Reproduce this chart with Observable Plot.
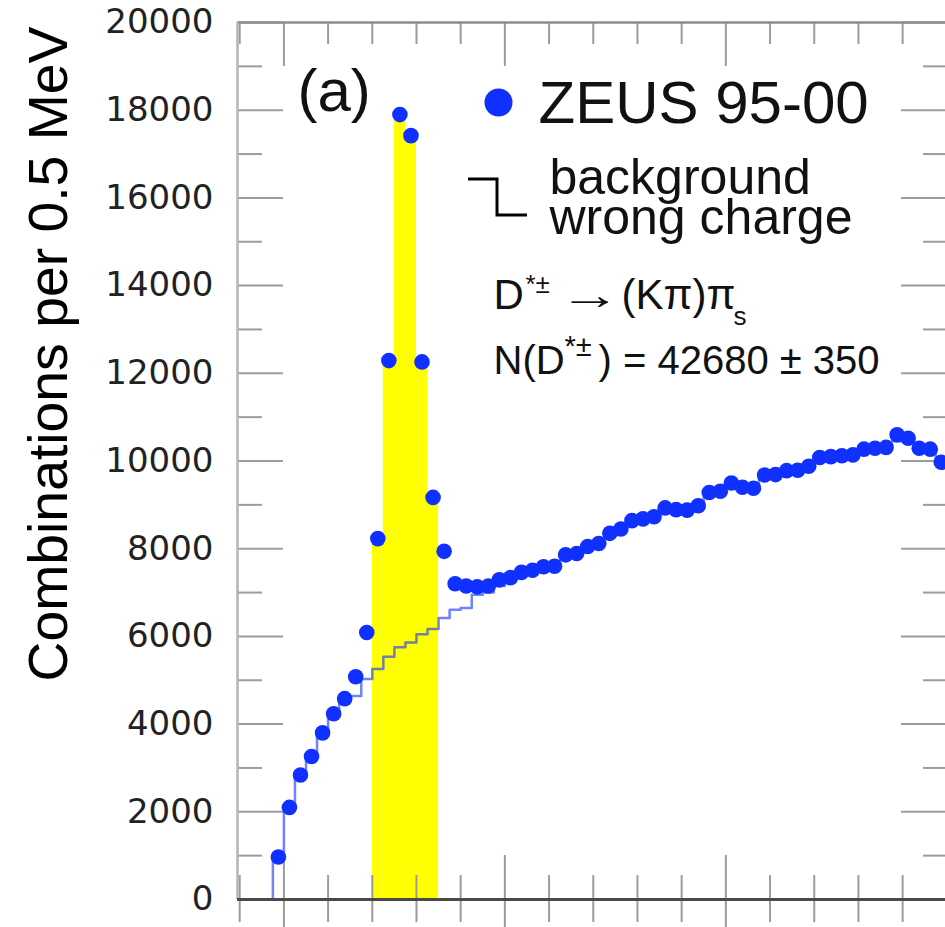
<!DOCTYPE html>
<html><head><meta charset="utf-8">
<script src="https://cdn.jsdelivr.net/npm/d3@7"></script>
<script src="https://cdn.jsdelivr.net/npm/@observablehq/plot@0.6"></script>
<style>html,body{margin:0;padding:0;background:#fff;overflow:hidden}#chart svg{display:block}</style>
</head><body><div id="chart"></div>
<script>
// ---- data (ΔM in GeV, bins of 0.5 MeV) ----
const dmCenters = [
  0.13975,0.14025,0.14075,0.14125,0.14175,0.14225,0.14275,0.14325,0.14375,0.14425,
  0.14475,0.14525,0.14575,0.14625,0.14675,0.14725,0.14775,0.14825,0.14875,0.14925,
  0.14975,0.15025,0.15075,0.15125,0.15175,0.15225,0.15275,0.15325,0.15375,0.15425,
  0.15475,0.15525,0.15575,0.15625,0.15675,0.15725,0.15775,0.15825,0.15875,0.15925,
  0.15975,0.16025,0.16075,0.16125,0.16175,0.16225,0.16275,0.16325,0.16375,0.16425,
  0.16475,0.16525,0.16575,0.16625,0.16675,0.16725,0.16775,0.16825,0.16875,0.16925,
  0.16975
];
const counts = [
  970,2100,2840,3260,3800,4235,4580,5080,6090,8230,
  12290,17900,17420,12260,9170,7940,7200,7150,7130,7150,
  7290,7340,7460,7510,7590,7600,7860,7890,8050,8120,
  8350,8450,8640,8680,8730,8930,8890,8880,8980,9280,
  9310,9500,9400,9380,9680,9690,9780,9790,9880,10080,
  10100,10120,10140,10270,10290,10310,10600,10520,10290,10270,
  9970
];
// wrong-charge background histogram: lower bin edges and contents
const bgEdges = [
  0.1390,0.1395,0.1400,0.1405,0.1410,0.1415,0.1420,0.1425,0.1430,0.1435,
  0.1440,0.1445,0.1450,0.1455,0.1460,0.1465,0.1470,0.1475,0.1480,0.1485,
  0.1490,0.1495,0.1500,0.1505,0.1510,0.1515,0.1520,0.1525,0.1530,0.1535,
  0.1540,0.1545,0.1550,0.1555,0.1560,0.1565,0.1570,0.1575,0.1580,0.1585,
  0.1590,0.1595,0.1600,0.1605,0.1610,0.1615,0.1620,0.1625,0.1630,0.1635,
  0.1640,0.1645,0.1650,0.1655,0.1660,0.1665,0.1670,0.1675,0.1680,0.1685,
  0.1690,0.1695
];
const bgCounts = [
  0,900,2050,2780,3230,3780,4200,4550,4640,5030,
  5254,5535,5750,5860,6050,6170,6420,6610,6650,6950,
  7000,7150,7250,7380,7450,7550,7600,7780,7850,7980,
  8100,8280,8400,8580,8620,8700,8850,8850,8850,8950,
  9200,9250,9420,9380,9350,9600,9650,9720,9750,9850,
  10000,10050,10080,10100,10200,10250,10280,10450,10450,10300,
  10250,9950
];
const bgEnd = 0.1700;
const binWidth = 0.0005;
const signalWindow = [0.144, 0.147];
const xDomain = [0.1379, 0.16994];
const yDomain = [0, 20000];
const yMajorTicks = [0,2000,4000,6000,8000,10000,12000,14000,16000,18000,20000];
const yTickLabels = ["0","2000","4000","6000","8000","10000","12000","14000","16000","18000","20000"];
const yMinorTicks = [1000,3000,5000,7000,9000,11000,13000,15000,17000,19000];
const xMajorTicks = [0.14,0.15,0.16,0.17];
const xMinorTicks = [0.138,0.142,0.144,0.146,0.148,0.152,0.154,0.156,0.158,0.162,0.164,0.166,0.168];
const yLabel = "Combinations per 0.5 MeV";

// ---- layout ----
const W = 945, H = 927;
const mL = 237, mR = 0, mT = 22, mB = 28;
const plotW = W - mL - mR;
const plotH = H - mT - mB;

const rows = dmCenters.map((m, i) => ({m, n: counts[i], lo: m - binWidth / 2, hi: m + binWidth / 2}));
const signal = rows.filter(d => d.lo >= signalWindow[0] - 1e-9 && d.hi <= signalWindow[1] + 1e-9);
const bgLine = bgEdges.map((e, i) => ({x: e, y: bgCounts[i]}))
  .concat([{x: bgEnd, y: bgCounts[bgCounts.length - 1]}]);

const tickGrey = "#9c9c9c";
const blue = "#1030ff";
const sans = "Liberation Sans, Arial, Helvetica, sans-serif";
const annot = (text, dx, dy, fontSize, extra = {}) =>
  Plot.text([text], {frameAnchor: "top-left", dx, dy, text: d => d, textAnchor: "start",
    lineAnchor: "bottom", fontSize, fill: "#111", fontFamily: sans, ...extra});

const svg = Plot.plot({
  width: W, height: H,
  marginLeft: mL, marginRight: mR, marginTop: mT, marginBottom: mB,
  x: {domain: xDomain, axis: null},
  y: {domain: yDomain, axis: null},
  style: {background: "white", fontFamily: sans, overflow: "visible"},
  marks: [
    Plot.rectY(signal, {x1: "lo", x2: "hi", y1: 0, y2: "n", fill: "#ffff00"}),
    // ticks: left / right
    Plot.tickY(yMajorTicks, {y: d => d, insetRight: plotW - 46, stroke: tickGrey, strokeWidth: 2}),
    Plot.tickY(yMinorTicks, {y: d => d, insetRight: plotW - 25, stroke: tickGrey, strokeWidth: 2}),
    Plot.tickY(yMajorTicks, {y: d => d, insetLeft: plotW - 44, stroke: tickGrey, strokeWidth: 2}),
    Plot.tickY(yMinorTicks, {y: d => d, insetLeft: plotW - 22, stroke: tickGrey, strokeWidth: 2}),
    // ticks: top / bottom
    Plot.tickX(xMajorTicks, {x: d => d, insetBottom: plotH - 44, stroke: tickGrey, strokeWidth: 2}),
    Plot.tickX(xMinorTicks, {x: d => d, insetBottom: plotH - 22, stroke: tickGrey, strokeWidth: 2}),
    Plot.tickX(xMajorTicks, {x: d => d, insetTop: plotH - 44, insetBottom: -28, stroke: tickGrey, strokeWidth: 2}),
    Plot.tickX(xMinorTicks, {x: d => d, insetTop: plotH - 24, insetBottom: -23, stroke: tickGrey, strokeWidth: 2}),
    // frame
    Plot.ruleY([yDomain[1]], {stroke: "#8c8c8c", strokeWidth: 2.5}),
    Plot.ruleX([xDomain[0]], {stroke: "#b4b4b4", strokeWidth: 2.5}),
    // background (wrong charge) histogram
    Plot.line(bgLine, {x: "x", y: "y", curve: "step-after", stroke: blue, strokeOpacity: 0.6, strokeWidth: 2.5}),
    Plot.ruleY([0], {stroke: "#4a4a4a", strokeWidth: 3}),
    // data points
    Plot.dot(rows, {x: "m", y: "n", r: 7.8, fill: blue, stroke: "none"}),
    // y tick labels
    Plot.text(yMajorTicks, {y: d => d, text: (d, i) => yTickLabels[i], frameAnchor: "left", dx: -24,
      textAnchor: "end", lineAnchor: "middle", fontSize: 34, fontFamily: "DejaVu Sans", fill: "#222"}),
    // y axis label
    Plot.text([yLabel], {frameAnchor: "top-left", dx: 66 - mL, dy: 26 - mT, rotate: -90, text: d => d,
      textAnchor: "end", lineAnchor: "bottom", fontSize: 56, fill: "#000", fontFamily: sans}),
    // legend / annotations
    annot("(a)", 60, 88, 60),
    Plot.dot([0], {frameAnchor: "top-left", dx: 261, dy: 80, r: 14, fill: blue, stroke: "none"}),
    annot("ZEUS 95-00", 301, 100, 60),
    annot("background", 312, 171, 50),
    annot("wrong charge", 312, 211, 50),
    annot("D", 256, 286, 42),
    annot("*±", 288, 270, 26),
    annot("→", 321, 286, 42),
    annot("(Kπ)π", 384, 286, 42),
    annot("s", 496, 302, 26),
    annot("N(D", 256, 351, 40),
    annot("*±", 327, 333, 29),
    annot(") = 42680 ± 350", 361, 351, 40)
  ]
});

const sel = d3.select(svg);
sel.selectAll("text")
  .filter(function () { return this.textContent === yLabel; })
  .attr("textLength", 655).attr("lengthAdjust", "spacingAndGlyphs");
sel.selectAll("text")
  .filter(function () { return this.textContent === "→"; })
  .attr("textLength", 62).attr("lengthAdjust", "spacingAndGlyphs");

// legend symbol for the step histogram
sel.append("path")
  .attr("d", "M468,179H497V215H527")
  .attr("fill", "none").attr("stroke", "#000").attr("stroke-width", 3);

document.getElementById("chart").appendChild(svg);
</script>
</body></html>
